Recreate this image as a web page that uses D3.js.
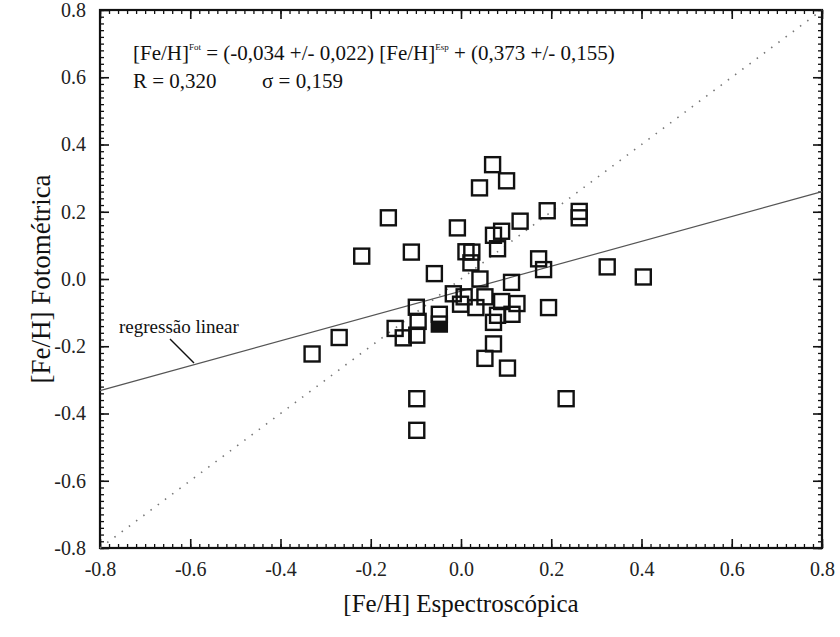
<!DOCTYPE html>
<html>
<head>
<meta charset="utf-8">
<script src="https://cdn.jsdelivr.net/npm/d3@7"></script>
<style>
  body { margin: 0; background: #fff; }
</style>
</head>
<body>
<svg id="chart" width="840" height="637"></svg>
<script>
// [Fe/H] espectroscopica (x) vs fotometrica (y)
const feEsp = [0.070, 0.101, 0.041, -0.161, 0.191, 0.262, 0.262, -0.008, 0.131, 0.090,
               0.072, 0.081, -0.220, -0.110, 0.011, 0.024, 0.022, 0.172, 0.183, -0.059,
               0.042, 0.112, 0.324, 0.404, -0.017, 0.007, 0.053, 0.090, 0.124, -0.099,
               -0.001, 0.033, 0.081, 0.113, 0.072, -0.048, -0.048, -0.095, -0.146, -0.128,
               -0.098, 0.194, 0.072, 0.053, 0.103, -0.098, -0.098, 0.233, -0.270, -0.330]
const feFot = [0.340, 0.292, 0.271, 0.182, 0.203, 0.201, 0.182, 0.152, 0.172, 0.142,
               0.130, 0.090, 0.068, 0.080, 0.081, 0.080, 0.048, 0.060, 0.028, 0.016,
               0.000, -0.010, 0.036, 0.006, -0.044, -0.053, -0.053, -0.067, -0.073, -0.084,
               -0.075, -0.085, -0.108, -0.105, -0.129, -0.105, -0.134, -0.126, -0.147, -0.175,
               -0.167, -0.085, -0.193, -0.236, -0.265, -0.356, -0.450, -0.356, -0.174, -0.223]
// the one partly filled symbol
const filledEsp = [-0.048]
const filledFot = [-0.142]

// fitted line as drawn, and the 1:1 line
const regX = [-0.8, 0.8]
const regY = [-0.332, 0.260]
const oneX = [-0.8, 0.8]
const oneY = [-0.8, 0.8]

const majorTicks = [-0.8, -0.6, -0.4, -0.2, 0, 0.2, 0.4, 0.6, 0.8]
const tickLabels = ['-0.8', '-0.6', '-0.4', '-0.2', '0.0', '0.2', '0.4', '0.6', '0.8']
const minorTicks = d3.range(-80, 81, 2).map(v => v / 100)

const serif = '"Liberation Serif", "Times New Roman", Tinos, "DejaVu Serif", serif'

let svg = d3.select('#chart')
let L = 100, R = 822, T = 10, B = 548

let x = d3.scaleLinear().domain([-0.8, 0.8]).range([L, R]),
    y = d3.scaleLinear().domain([-0.8, 0.8]).range([B, T])

let fmt = d => tickLabels[majorTicks.indexOf(d)]

// minor ticks, all four sides, pointing in
let minor = [
    [d3.axisBottom(x), `translate(0,${B})`],
    [d3.axisTop(x), `translate(0,${T})`],
    [d3.axisLeft(y), `translate(${L},0)`],
    [d3.axisRight(y), `translate(${R},0)`]
]
minor.forEach(([ax, tr]) => {
    svg.append('g').attr('transform', tr)
        .call(ax.tickValues(minorTicks).tickSize(-4).tickFormat(''))
        .call(g => g.select('.domain').remove())
        .call(g => g.selectAll('line').attr('stroke', '#111').attr('stroke-width', 1.3))
})

let major = [
    [d3.axisBottom(x), `translate(0,${B})`, true],
    [d3.axisTop(x), `translate(0,${T})`, false],
    [d3.axisLeft(y), `translate(${L},0)`, true],
    [d3.axisRight(y), `translate(${R},0)`, false]
]
major.forEach(([ax, tr, lab]) => {
    svg.append('g').attr('transform', tr)
        .call(ax.tickValues(majorTicks).tickSize(-9).tickPadding(lab ? 14 : 0)
            .tickFormat(lab ? fmt : ''))
        .call(g => g.attr('font-family', serif))
        .call(g => g.select('.domain').remove())
        .call(g => g.selectAll('line').attr('stroke', '#111').attr('stroke-width', 1.6))
        .call(g => g.selectAll('text').attr('font-size', 20)
            .attr('font-family', serif).attr('fill', '#222'))
})

svg.append('rect')
    .attr('x', L).attr('y', T)
    .attr('width', R - L).attr('height', B - T)
    .attr('fill', 'none').attr('stroke', '#111').attr('stroke-width', 2.2)

let line = d3.line().x(d => x(d[0])).y(d => y(d[1]))

svg.append('path')
    .attr('d', line(oneX.map((v, i) => [v, oneY[i]])))
    .attr('fill', 'none').attr('stroke', '#777').attr('stroke-width', 1.6)
    .attr('stroke-dasharray', '1.5,7.5')

svg.append('path')
    .attr('d', line(regX.map((v, i) => [v, regY[i]])))
    .attr('fill', 'none').attr('stroke', '#555').attr('stroke-width', 1.2)

let s = 15
svg.append('g').selectAll('rect')
    .data(feEsp.map((v, i) => [v, feFot[i]]))
    .join('rect')
    .attr('x', d => x(d[0]) - s / 2)
    .attr('y', d => y(d[1]) - s / 2)
    .attr('width', s).attr('height', s)
    .attr('fill', 'none').attr('stroke', '#111').attr('stroke-width', 2.4)

svg.append('g').selectAll('rect')
    .data(filledEsp.map((v, i) => [v, filledFot[i]]))
    .join('rect')
    .attr('x', d => x(d[0]) - 7)
    .attr('y', d => y(d[1]) - 5)
    .attr('width', 14).attr('height', 10)
    .attr('fill', '#111')

let txt = (xx, yy, size) => svg.append('text')
    .attr('x', xx).attr('y', yy).attr('font-size', size)
    .attr('font-family', serif).attr('fill', '#111')

// equation and stats
let eq = txt(133, 60, 21)
eq.append('tspan').text('[Fe/H]')
eq.append('tspan').attr('font-size', 9).attr('dy', -10).text('Fot')
eq.append('tspan').attr('dy', 10).text(' = (-0,034 +/- 0,022) [Fe/H]')
eq.append('tspan').attr('font-size', 9).attr('dy', -10).text('Esp')
eq.append('tspan').attr('dy', 10).text(' + (0,373 +/- 0,155)')

txt(133, 88, 21).text('R = 0,320')
txt(262, 88, 21).text('σ = 0,159')

// annotation for the fit
txt(119, 333, 19).text('regressão linear')
svg.append('line')
    .attr('x1', 170).attr('y1', 339).attr('x2', 194).attr('y2', 363)
    .attr('stroke', '#111').attr('stroke-width', 1.5)

// axis titles
txt((L + R) / 2, 612, 25)
    .attr('text-anchor', 'middle')
    .text('[Fe/H] Espectroscópica')

txt(0, 0, 27)
    .attr('transform', `translate(50,${(T + B) / 2}) rotate(-90)`)
    .attr('text-anchor', 'middle')
    .text('[Fe/H] Fotométrica')
</script>
</body>
</html>
